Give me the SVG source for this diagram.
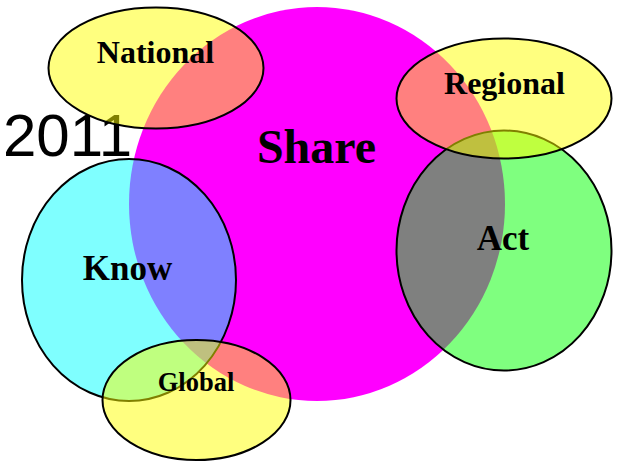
<svg xmlns="http://www.w3.org/2000/svg" width="619" height="461" viewBox="0 0 619 461">
<style>
.set{fill-opacity:0.5;stroke:#000;stroke-width:2}
.lbl{font-family:"Liberation Serif","Times New Roman",serif;font-weight:bold;text-anchor:middle;fill:#000}
</style>
<rect width="619" height="461" fill="#fff"/>
<text x="3" y="156" font-family="Liberation Sans, Arial, sans-serif" font-size="60" fill="#000">2011</text>
<g id="share"><ellipse cx="317" cy="204" rx="188" ry="197" fill="#ff00ff"/></g>
<g id="know"><ellipse class="set" cx="129" cy="280" rx="107" ry="121" fill="#00ffff"/></g>
<g id="act"><ellipse class="set" cx="504" cy="250.5" rx="107.5" ry="120" fill="#00ff00"/></g>
<g id="national"><ellipse class="set" cx="156" cy="68" rx="107.5" ry="60.5" fill="#ffff00"/></g>
<g id="regional"><ellipse class="set" cx="504" cy="98.5" rx="107.5" ry="60" fill="#ffff00"/></g>
<g id="global"><ellipse class="set" cx="196.5" cy="400" rx="94" ry="60" fill="#ffff00"/></g>
<g id="labels">
<text class="lbl" x="316.5" y="163" font-size="48">Share</text>
<text class="lbl" x="127.5" y="280" font-size="35">Know</text>
<text class="lbl" x="503" y="250" font-size="35">Act</text>
<text class="lbl" x="155.5" y="63" font-size="32">National</text>
<text class="lbl" x="504.5" y="94" font-size="32">Regional</text>
<text class="lbl" x="196" y="391" font-size="26.5">Global</text>
</g>
<g id="connectors"/>
</svg>
